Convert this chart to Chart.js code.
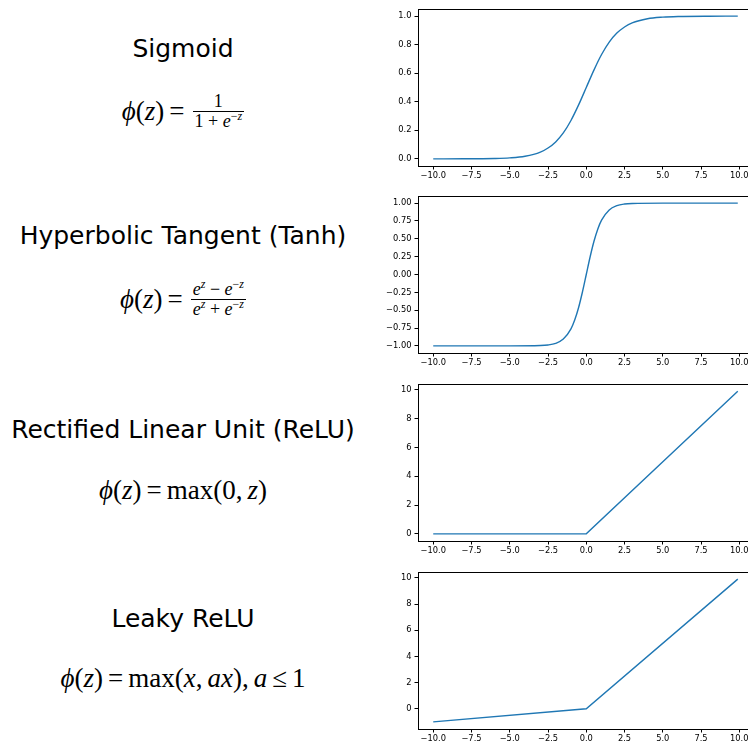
<!DOCTYPE html>
<html>
<head>
<meta charset="utf-8">
<script src="https://cdn.jsdelivr.net/npm/chart.js@4"></script>
<style>
  html, body { margin: 0; padding: 0; background: #fff; }
  body { width: 748px; height: 742px; overflow: hidden; position: relative; }
  canvas { position: absolute; left: 380px; }
  .title {
    position: absolute; left: 0; width: 366px; text-align: center;
    font-family: 'DejaVu Sans', sans-serif; font-size: 25px; line-height: 28px; color: #000;
    white-space: nowrap;
  }
  .formula {
    position: absolute; left: 0; width: 366px; height: 40px;
    display: flex; justify-content: center; align-items: center;
    font-family: 'Liberation Serif', serif; font-size: 27px; color: #000; white-space: nowrap;
  }
  .frac { display: inline-flex; flex-direction: column; align-items: center; font-size: 18px; line-height: 18px; margin-left: 3px; }
  .frac .den { border-top: 1.5px solid #000; padding: 0 2px; }
  .frac .num { padding: 0 2px 1px; }
  sup { font-size: 12px; vertical-align: 7px; line-height: 0; }
  .eq { margin: 0 5px; }
  .sp { margin-left: 5px; }
</style>
</head>
<body>

<div class="title" style="top:35px">Sigmoid</div>
<div class="formula" style="top:91px"><span><i>ϕ</i>(<i>z</i>)<span class="eq">=</span></span><span class="frac"><span class="num">1</span><span class="den">1 + <i>e</i><sup>−<i>z</i></sup></span></span></div>

<div class="title" style="top:222px">Hyperbolic Tangent (Tanh)</div>
<div class="formula" style="top:279px"><span><i>ϕ</i>(<i>z</i>)<span class="eq">=</span></span><span class="frac"><span class="num"><i>e</i><sup><i>z</i></sup> − <i>e</i><sup>−<i>z</i></sup></span><span class="den"><i>e</i><sup><i>z</i></sup> + <i>e</i><sup>−<i>z</i></sup></span></span></div>

<div class="title" style="top:416px">Rectified Linear Unit (ReLU)</div>
<div class="formula" style="top:470px"><span><i>ϕ</i>(<i>z</i>)<span class="eq">=</span>max(0,<span class="sp"></span><i>z</i>)</span></div>

<div class="title" style="top:605px">Leaky ReLU</div>
<div class="formula" style="top:658px"><span><i>ϕ</i>(<i>z</i>)<span class="eq">=</span>max(<i>x</i>,<span class="sp"></span><i>ax</i>),<span class="sp"></span><i>a</i><span class="eq">≤</span>1</span></div>

<canvas id="sigmoidChart" width="380" height="185" style="top:1px"></canvas>
<canvas id="tanhChart" width="380" height="185" style="top:188px"></canvas>
<canvas id="reluChart" width="380" height="185" style="top:376px"></canvas>
<canvas id="leakyChart" width="380" height="185" style="top:564px"></canvas>

<script>
// x ticks shared by all four plots
const xTicks = [-10, -7.5, -5, -2.5, 0, 2.5, 5, 7.5, 10];

// Sigmoid
const sigmoidX = [-10, -8, -6, -5, -4, -3, -2.5, -2, -1.5, -1, -0.5, 0, 0.5, 1, 1.5, 2, 2.5, 3, 4, 5, 6, 8, 9.9];
const sigmoidY = [0.0, 0.0003, 0.0025, 0.0067, 0.018, 0.047, 0.076, 0.119, 0.182, 0.269, 0.378, 0.5, 0.622, 0.731, 0.818, 0.881, 0.924, 0.953, 0.982, 0.993, 0.9975, 0.9997, 1.0];
const sigmoidTicks = [0, 0.2, 0.4, 0.6, 0.8, 1.0];

// Tanh
const tanhX = [-10, -5, -3, -2.5, -2, -1.5, -1, -0.75, -0.5, -0.25, 0, 0.25, 0.5, 0.75, 1, 1.5, 2, 2.5, 3, 5, 9.9];
const tanhY = [-1, -1, -0.995, -0.987, -0.964, -0.905, -0.762, -0.635, -0.462, -0.245, 0, 0.245, 0.462, 0.635, 0.762, 0.905, 0.964, 0.987, 0.995, 1, 1];
const tanhTicks = [-1, -0.75, -0.5, -0.25, 0, 0.25, 0.5, 0.75, 1];

// ReLU
const reluX = [-10, 0, 9.9];
const reluY = [0, 0, 9.9];
const reluTicks = [0, 2, 4, 6, 8, 10];

// Leaky ReLU
const leakyX = [-10, 0, 9.9];
const leakyY = [-1, 0, 9.9];
const leakyTicks = [0, 2, 4, 6, 8, 10];

Chart.defaults.font.family = "'DejaVu Sans', sans-serif";
Chart.defaults.font.size = 8.3;
Chart.defaults.color = '#000';

// draw the full box around the axes, like matplotlib
const framePlugin = {
    id: 'frame',
    afterDraw(chart) {
        const a = chart.chartArea;
        const ctx = chart.ctx;
        ctx.save();
        ctx.strokeStyle = '#000';
        ctx.lineWidth = 1;
        ctx.strokeRect(Math.round(a.left) + 0.5, Math.round(a.top) + 0.5, Math.round(a.right - a.left), Math.round(a.bottom - a.top));
        ctx.restore();
    }
};

function fmt(v, decimals) {
    return v.toFixed(decimals).replace('-', '\u2212');
}

// 5% margin like matplotlib autoscale
function padRange(values) {
    const lo = Math.min(...values), hi = Math.max(...values);
    const m = (hi - lo) * 0.05;
    return [lo - m, hi + m];
}

function createPlot(canvasId, xs, ys, yTicks, yDecimals, smooth) {
    const ctx = document.getElementById(canvasId).getContext('2d');
    const xr = padRange(xs);
    const yr = padRange(ys);
    new Chart(ctx, {
        type: 'line',
        data: {
            datasets: [{
                data: xs.map((x, i) => ({ x: x, y: ys[i] })),
                borderColor: '#1f77b4',
                borderWidth: 1.4,
                pointRadius: 0,
                fill: false,
                cubicInterpolationMode: smooth ? 'monotone' : 'default',
            }]
        },
        options: {
            responsive: false,
            animation: false,
            devicePixelRatio: 1,
            layout: { padding: { top: 8, right: 7, left: 0, bottom: 0 } },
            plugins: { legend: { display: false }, tooltip: { enabled: false } },
            scales: {
                x: {
                    type: 'linear',
                    min: xr[0],
                    max: xr[1],
                    afterBuildTicks: (scale) => { scale.ticks = xTicks.map(v => ({ value: v })); },
                    afterFit: (scale) => { scale.height = 20; },
                    ticks: { callback: (v) => fmt(v, 1), padding: 1.5, maxRotation: 0, autoSkip: false },
                    grid: { drawOnChartArea: false, drawTicks: true, tickLength: 3.5, color: '#000' },
                    border: { display: false },
                },
                y: {
                    type: 'linear',
                    min: yr[0],
                    max: yr[1],
                    afterBuildTicks: (scale) => { scale.ticks = yTicks.map(v => ({ value: v })); },
                    afterFit: (scale) => { scale.width = 38; },
                    ticks: { callback: (v) => fmt(v, yDecimals), padding: 3, autoSkip: false },
                    grid: { drawOnChartArea: false, drawTicks: true, tickLength: 3.5, color: '#000' },
                    border: { display: false },
                }
            }
        },
        plugins: [framePlugin]
    });
}

createPlot('sigmoidChart', sigmoidX, sigmoidY, sigmoidTicks, 1, true);
createPlot('tanhChart', tanhX, tanhY, tanhTicks, 2, true);
createPlot('reluChart', reluX, reluY, reluTicks, 0, false);
createPlot('leakyChart', leakyX, leakyY, leakyTicks, 0, false);
</script>
</body>
</html>
